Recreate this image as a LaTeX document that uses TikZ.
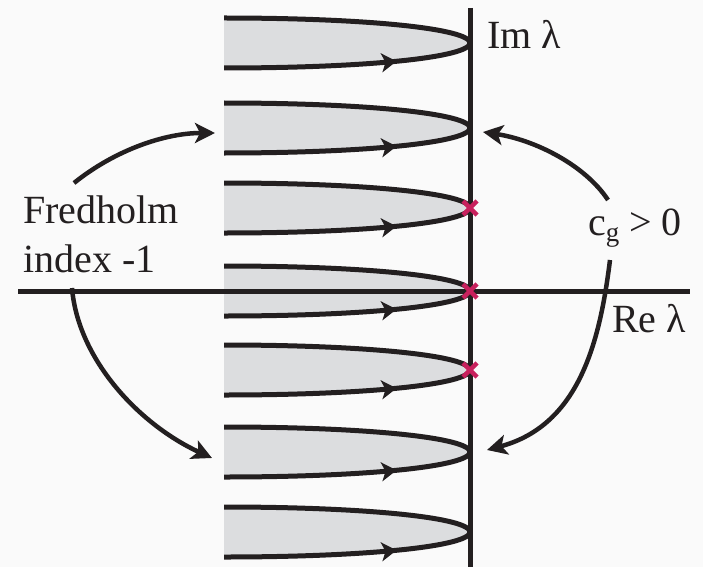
\documentclass[tikz,border=0pt]{standalone}
\usepackage{fontspec}
\setmainfont{Liberation Serif}
\usetikzlibrary{arrows.meta,decorations.markings}
\definecolor{bg}{HTML}{FAFAFA}
\definecolor{ink}{HTML}{231F20}
\definecolor{loopfill}{HTML}{DCDDDF}
\definecolor{crossred}{HTML}{C8215D}
\begin{document}
\begin{tikzpicture}[x=1pt,y=-1pt,
  loopline/.style={draw=ink,line width=5pt},
  flowarrow/.style={postaction={decorate},decoration={markings,
     mark=at position 0.69 with {\arrow{Stealth[length=15pt,width=19pt,inset=4pt]}}}},
  axisline/.style={draw=ink,line width=5pt},
  bigarrow/.style={draw=ink,line width=4.5pt,-{Stealth[length=20pt,width=20pt,inset=5pt]}},
  crossmark/.style={draw=crossred,line width=4.5pt},
  lbl/.style={inner sep=0pt,anchor=base west,text=ink,font=\fontsize{40}{48}\selectfont}]
\useasboundingbox[fill=bg] (0,0) rectangle (703,567);
% loops
\foreach \t in {43,128,208,291,370,452,532}{
  \fill[loopfill] (224,\t-25) .. controls (370,\t-25) and (470,\t-14) .. (470,\t)
     .. controls (470,\t+14) and (370,\t+25) .. (224,\t+25) -- cycle;
  \draw[loopline] (224,\t-25) .. controls (370,\t-25) and (470,\t-14) .. (470,\t);
  \draw[loopline,flowarrow] (224,\t+25) .. controls (370,\t+25) and (470,\t+14) .. (470,\t);
}
% axes
\coordinate (vtop) at (470,8);
\coordinate (vbot) at (470,567);
\coordinate (hleft) at (18,291);
\coordinate (hright) at (690,291);
\draw[axisline] (vtop) -- (vbot);
\draw[axisline] (hleft) -- (hright);
% crosses
\foreach \t/\n in {208/a,291/b,370/c}{
  \coordinate (x\n) at (470,\t);
  \draw[crossmark] ([shift={(-7,-7)}]x\n) -- ([shift={(7,7)}]x\n);
  \draw[crossmark] ([shift={(-7,7)}]x\n) -- ([shift={(7,-7)}]x\n);
}
% labels
\node[lbl] (im) at (487,49) {Im λ};
\node[lbl] (re) at (612,332) {Re λ};
\node[lbl] (fred) at (23,223) {Fredholm};
\node[lbl] (index) at (23,272) {index -1};
\node[lbl] (cg) at (588,235) {c\raisebox{-6pt}{\fontsize{27}{27}\selectfont g} > 0};
% curved arrows
\coordinate (l1s) at (74,183);
\coordinate (l1e) at (215,133);
\coordinate (l2s) at (72,288);
\coordinate (l2e) at (212,458);
\coordinate (r1s) at (608,200);
\coordinate (r1e) at (483,132);
\coordinate (r2s) at (610,260);
\coordinate (r2e) at (487,450);
\draw[bigarrow] (l1s) .. controls (115,150) and (165,133) .. (l1e);
\draw[bigarrow] (l2s) .. controls (78,360) and (140,425) .. (l2e);
\draw[bigarrow] (r1s) .. controls (585,165) and (535,140) .. (r1e);
\draw[bigarrow] (r2s) .. controls (600,340) and (580,425) .. (r2e);
\end{tikzpicture}
\end{document}
